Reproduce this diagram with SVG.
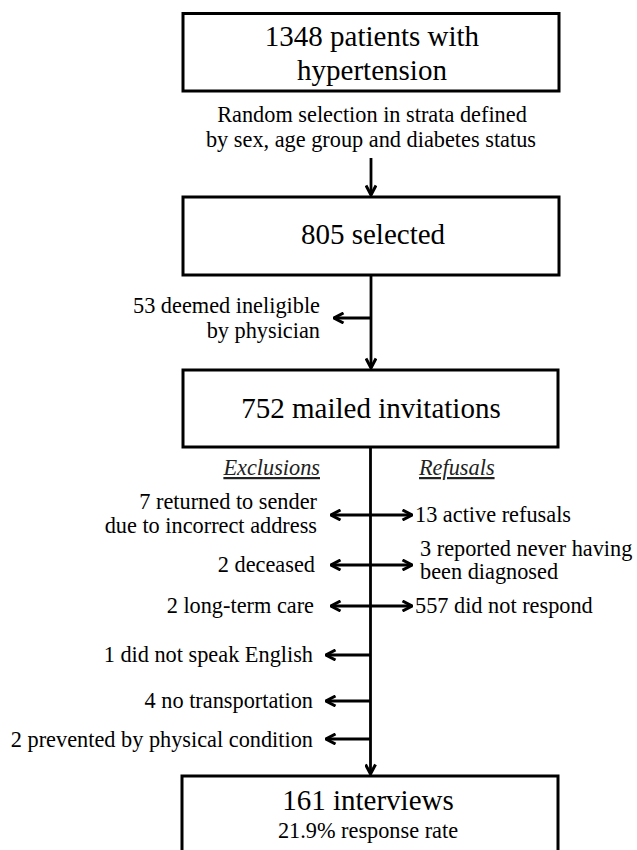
<svg xmlns="http://www.w3.org/2000/svg" width="637" height="850" viewBox="0 0 637 850" font-family="'Liberation Serif', 'Times New Roman', serif">
<style>
.box{fill:#fff;stroke:#000;stroke-width:3}
text{font-family:'Liberation Serif','Times New Roman',serif;fill:#000}
.big{font-size:29px}
.sm{font-size:22.3px}
.l{text-anchor:end}
.m{text-anchor:middle}
.hd{font-style:italic;text-decoration:underline;fill:#222}
.c{stroke:#000;stroke-width:2.8;fill:none}
</style>
<defs>
<marker id="ah" viewBox="0 0 12 12" refX="11" refY="6" markerWidth="12" markerHeight="12" markerUnits="userSpaceOnUse" orient="auto-start-reverse">
<path d="M1.5,1 L11,6 L1.5,11" fill="none" stroke="#000" stroke-width="3"/>
</marker>
</defs>
<rect width="637" height="850" fill="#fff"/>
<g id="connectors">
<line class="c" x1="371" y1="158" x2="371" y2="195" marker-end="url(#ah)"/>
<line class="c" x1="371" y1="276" x2="371" y2="368" marker-end="url(#ah)"/>
<line class="c" x1="371" y1="318" x2="334" y2="318" marker-end="url(#ah)"/>
<line class="c" x1="370.5" y1="448" x2="370.5" y2="774" marker-end="url(#ah)"/>
<line class="c" x1="331" y1="515" x2="412" y2="515" marker-start="url(#ah)" marker-end="url(#ah)"/>
<line class="c" x1="331" y1="565" x2="412" y2="565" marker-start="url(#ah)" marker-end="url(#ah)"/>
<line class="c" x1="331" y1="606" x2="412" y2="606" marker-start="url(#ah)" marker-end="url(#ah)"/>
<line class="c" x1="370.5" y1="655" x2="326" y2="655" marker-end="url(#ah)"/>
<line class="c" x1="370.5" y1="701" x2="326" y2="701" marker-end="url(#ah)"/>
<line class="c" x1="370.5" y1="739" x2="326" y2="739" marker-end="url(#ah)"/>
</g>
<g id="n1348">
<rect class="box" x="183" y="13.5" width="376" height="77.5"/>
<text class="big m" x="372" y="46">1348 patients with</text>
<text class="big m" x="372" y="80">hypertension</text>
</g>
<g id="random">
<text class="sm m" x="372" y="122">Random selection in strata defined</text>
<text class="sm m" x="371" y="147">by sex, age group and diabetes status</text>
</g>
<g id="n805">
<rect class="box" x="183" y="197" width="376" height="78"/>
<text class="big m" x="373" y="244">805 selected</text>
</g>
<g id="ineligible">
<text class="sm l" x="320" y="313">53 deemed ineligible</text>
<text class="sm l" x="320" y="338">by physician</text>
</g>
<g id="n752">
<rect class="box" x="183" y="370" width="375" height="77"/>
<text class="big m" x="371" y="418">752 mailed invitations</text>
</g>
<g id="headers">
<text class="sm hd l" x="320" y="475">Exclusions</text>
<text class="sm hd" x="419" y="475">Refusals</text>
</g>
<g id="exclusions">
<text class="sm l" x="317" y="509">7 returned to sender</text>
<text class="sm l" x="317" y="533">due to incorrect address</text>
<text class="sm l" x="315" y="572">2 deceased</text>
<text class="sm l" x="314" y="613">2 long-term care</text>
<text class="sm l" x="313" y="662">1 did not speak English</text>
<text class="sm l" x="313" y="708">4 no transportation</text>
<text class="sm l" x="313" y="747">2 prevented by physical condition</text>
</g>
<g id="refusals">
<text class="sm" x="415" y="522">13 active refusals</text>
<text class="sm" x="420" y="556">3 reported never having</text>
<text class="sm" x="420" y="579">been diagnosed</text>
<text class="sm" x="415" y="613">557 did not respond</text>
</g>
<g id="n161">
<rect class="box" x="182" y="776" width="376" height="90"/>
<text class="big m" x="368" y="810">161 interviews</text>
<text class="sm m" x="368" y="838">21.9% response rate</text>
</g>
</svg>
